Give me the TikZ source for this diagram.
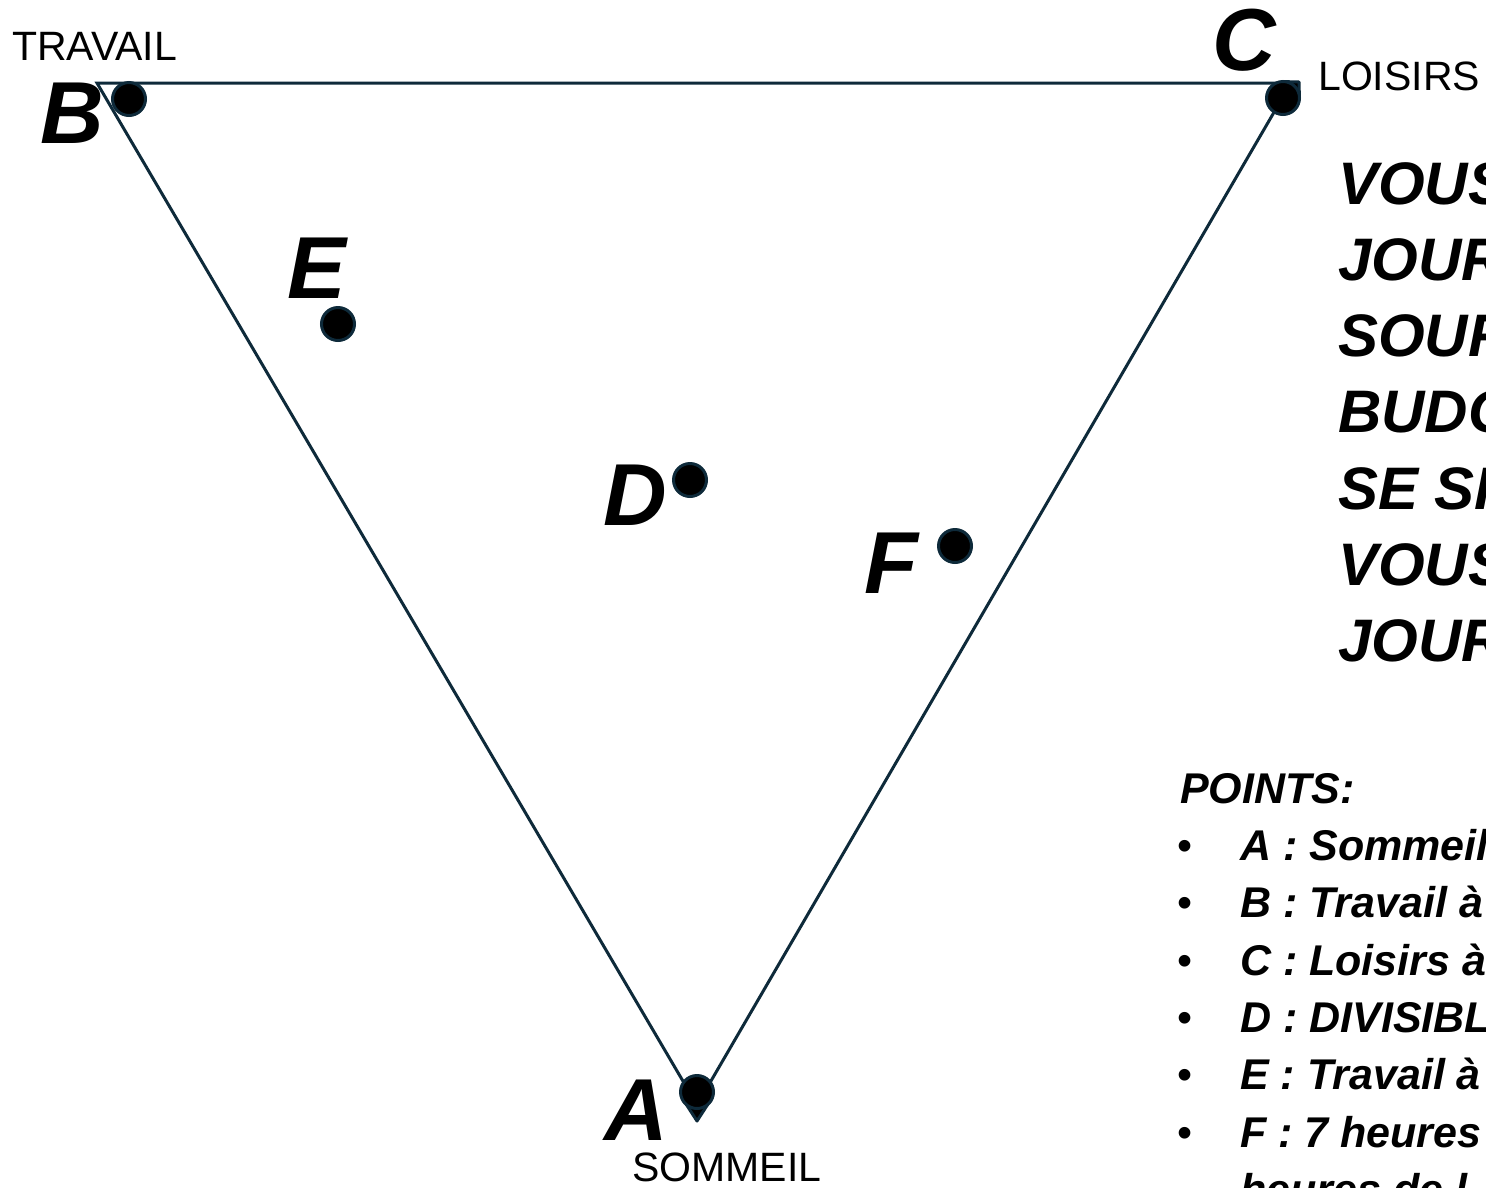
\documentclass[tikz,border=0pt]{standalone}
\usepackage{fontspec}
\setmainfont{Liberation Sans}
\definecolor{navy}{HTML}{0E2A3A}
\begin{document}
\begin{tikzpicture}[x=1pt,y=-1pt,
  edge/.style={draw=navy,line width=3pt},
  dot/.style={circle,fill=black,draw=navy,line width=3pt,minimum size=33pt,inner sep=0pt},
  tail/.style={fill=black,draw=navy,line width=3pt,line join=round},
  big/.style={font=\fontsize{88}{88}\selectfont\bfseries\itshape,inner sep=0pt,anchor=base west},
  cat/.style={font=\fontsize{41}{41}\selectfont,inner sep=0pt,anchor=base west},
  msg/.style={font=\fontsize{60}{60}\selectfont\bfseries\itshape,inner sep=0pt,anchor=base west},
  item/.style={font=\fontsize{43}{43}\selectfont\bfseries\itshape,inner sep=0pt,anchor=base west}]
\useasboundingbox (0,0) rectangle (1486,1187);
\clip (0,0) rectangle (1486,1187);
\fill[white] (0,0) rectangle (1486,1187);
% triangle
\coordinate (vB) at (97,83);
\coordinate (vC) at (1291,83);
\coordinate (vA) at (697,1105);
\draw[edge] (vB) -- (vC) -- (vA) -- cycle;
% pin tails
\draw[tail] (697,1121) -- (686.4,1104.6) -- (707.6,1104.6) -- cycle;
\draw[tail] (1299,82) -- (1299.4,96.6) -- (1284.4,81.6) -- cycle;
% dots
\node[dot] (pA) at (697,1092) {};
\node[dot] (pB) at (129,99) {};
\node[dot] (pC) at (1283,98) {};
\node[dot] (pD) at (690,480) {};
\node[dot] (pE) at (338,324) {};
\node[dot] (pF) at (955,546) {};
% big letters
\node[big] (lB) at (40,143) {B};
\node[big] (lC) at (1212,70) {C};
\node[big] (lE) at (287,298) {E};
\node[big] (lD) at (603,525) {D};
\node[big] (lF) at (864,593) {F};
\node[big] (lA) at (604,1140) {A};
% categories
\node[cat] (tT) at (12,60) {TRAVAIL};
\node[cat] (tL) at (1318,90) {LOISIRS};
\node[cat] (tS) at (632,1181) {SOMMEIL};
% message
\node[msg] (m1) at (1338,204) {VOUS};
\node[msg] (m2) at (1338,280) {JOUR};
\node[msg] (m3) at (1338,356) {SOUR};
\node[msg] (m4) at (1338,432) {BUDG};
\node[msg] (m5) at (1338,509) {SE SI};
\node[msg] (m6) at (1338,585) {VOUS};
\node[msg] (m7) at (1338,661) {JOUR};
% list
\node[item] (pts) at (1180,803) {POINTS:};
\foreach \y/\t [count=\i] in {860/{A : Sommeil},917/{B : Travail à},975/{C : Loisirs à},1032/{D : DIVISIBL},1089/{E : Travail à},1147/{F : 7 heures}}{
  \node[item,font=\fontsize{43}{43}\selectfont] (b\i) at (1177,\y) {•};
  \node[item] (it\i) at (1240,\y) {\t};
}
\node[item] (it7) at (1240,1204) {heures de l};
\end{tikzpicture}
\end{document}
